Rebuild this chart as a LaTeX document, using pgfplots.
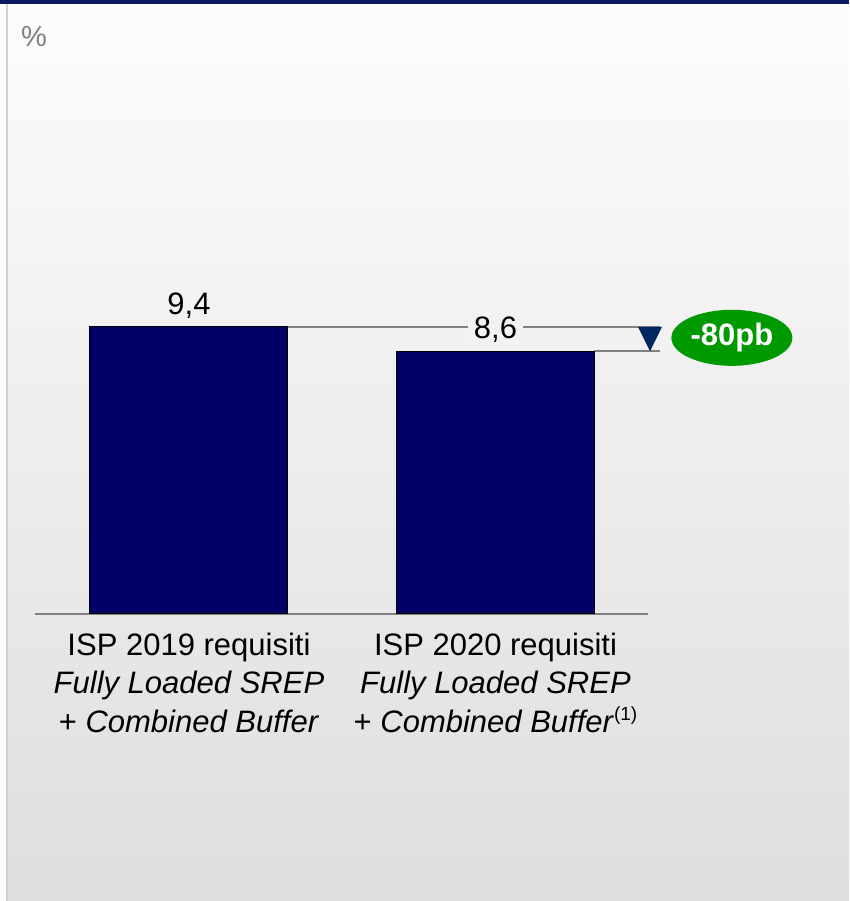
\documentclass[border=0pt]{standalone}
\usepackage{pgfplots}
\pgfplotsset{compat=1.18}
\usetikzlibrary{shapes.geometric}
\usepackage{fontspec}
\setmainfont{Liberation Sans}
\definecolor{barnavy}{HTML}{000066}
\definecolor{trinavy}{HTML}{00285F}
\definecolor{bandnavy}{HTML}{0A1A5C}
\definecolor{pillgreen}{HTML}{009900}
\definecolor{bgmid}{HTML}{F2F2F2}
\definecolor{linegray}{HTML}{808080}
\pgfplotstableread{
x y
0 9.4
1 8.6
}\datatable
\begin{document}
\begin{tikzpicture}[x=1pt,y=1pt]
% background
\fill[white] (0,0) rectangle (849,901);
\shade[top color=white!99!black, bottom color=black!13] (7,0) rectangle (849,897);
\draw[black!18, line width=2pt] (7,0) -- (7,897);
\fill[bandnavy] (0,897) rectangle (849,901);
\node[anchor=base west, text=black!50, font=\fontsize{29}{34}\selectfont, inner sep=0pt] at (21,854) {\%};
\begin{axis}[
  at={(35pt,287pt)}, anchor=south west,
  scale only axis,
  x=306.5pt, y=30.55pt,
  xmin=-0.5024, xmax=1.4976,
  ymin=0, ymax=18.8,
  axis x line=bottom,
  axis y line=none,
  x axis line style={-, draw=linegray, line width=2pt},
  xtick=data,
  xtick style={draw=none},
  xticklabels={{ISP 2019 requisiti\\\textit{Fully Loaded SREP}\\+ \textit{Combined Buffer}},{ISP 2020 requisiti\\\textit{Fully Loaded SREP}\\+ \textit{Combined Buffer}\raisebox{12pt}{\fontsize{19}{19}\selectfont(1)}}},
  xticklabel style={align=center, font=\fontsize{31}{38.5}\selectfont, yshift=-11pt},
  clip=false,
  ybar, bar width=198pt, bar shift=0pt,
]
\draw[linegray, line width=2pt] (axis cs:0.323,9.4) -- (axis cs:1.537,9.4);
\draw[linegray, line width=2pt] (axis cs:1.3214,8.6) -- (axis cs:1.537,8.6);
\addplot[fill=barnavy, draw=black, line width=1pt,
  nodes near coords={\pgfmathprintnumber[use comma,fixed,fixed zerofill,precision=1,assume math mode=true]{\pgfplotspointmeta}},
  nodes near coords style={font=\fontsize{31}{37}\selectfont, text=black, fill=bgmid, inner xsep=6pt, inner ysep=4pt, yshift=4pt}
] table[x=x,y=y] {\datatable};
\fill[trinavy] ([xshift=-12pt]axis cs:1.5042,9.4) -- ([xshift=12pt]axis cs:1.5042,9.4) -- (axis cs:1.5042,8.6) -- cycle;
\node[ellipse, fill=pillgreen, minimum width=121pt, minimum height=56pt, inner sep=0pt, text=white, font=\fontsize{31}{37}\selectfont\bfseries] at ([yshift=-11pt]axis cs:1.7712,9.4) {-80pb};
\end{axis}
\pgfresetboundingbox
\useasboundingbox (0,0) rectangle (849,901);
\end{tikzpicture}
\end{document}
